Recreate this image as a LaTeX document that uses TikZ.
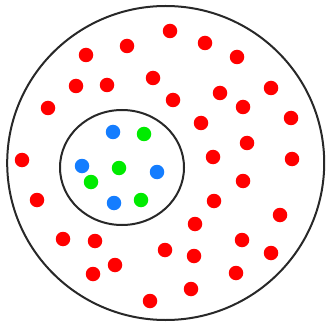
\documentclass[tikz,border=0pt]{standalone}
\usetikzlibrary{shapes.geometric}
\definecolor{ringcol}{RGB}{40,40,40}
\definecolor{rdotc}{RGB}{255,0,0}
\definecolor{bdotc}{RGB}{20,125,255}
\definecolor{gdotc}{RGB}{0,235,0}
\tikzset{
  ring/.style={draw=ringcol, line width=2pt, ellipse, inner sep=0pt},
  dotbase/.style={circle, inner sep=0pt, minimum size=14.5pt},
  rdot/.style={dotbase, fill=rdotc},
  bdot/.style={dotbase, fill=bdotc},
  gdot/.style={dotbase, fill=gdotc}
}
\begin{document}
\begin{tikzpicture}[x=1pt,y=-1pt]
\useasboundingbox (0,0) rectangle (326,323);
\node[ring, minimum width=317pt, minimum height=314pt] (outer) at (165.7,163) {};
\node[ring, minimum width=124pt, minimum height=115pt] (inner) at (122,167.5) {};
% inner dots
\node[bdot] (b1) at (113,132) {};
\node[gdot] (g1) at (144,134) {};
\node[bdot] (b2) at (82,166) {};
\node[gdot] (g2) at (119,168) {};
\node[bdot] (b3) at (157,172) {};
\node[gdot] (g3) at (91,182) {};
\node[bdot] (b4) at (114,203) {};
\node[gdot] (g4) at (141,200) {};
% red dots
\foreach \x/\y [count=\i] in {
  86/55, 127/46, 170/31, 205/43, 237/57, 76/86, 107/85, 153/78, 48/108,
  173/100, 220/93, 271/88, 243/107, 201/123, 291/118, 247/143, 213/157,
  292/159, 22/160, 37/200, 243/181, 214/201, 195/224, 280/215, 63/239,
  95/241, 242/240, 165/250, 194/256, 271/253, 115/265, 93/274, 236/273,
  191/289, 150/301}
  \node[rdot] (r\i) at (\x,\y) {};
\end{tikzpicture}
\end{document}
